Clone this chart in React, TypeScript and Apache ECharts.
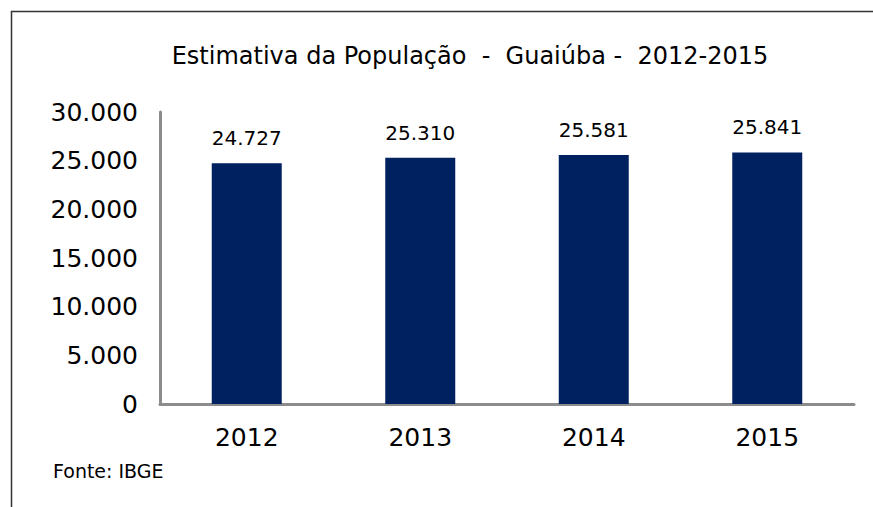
import React, { useEffect, useRef } from "react";
import * as echarts from "echarts";

const categories = ["2012", "2013", "2014", "2015"];
const populacao = [24727, 25310, 25581, 25841];
const yTicks = [0, 5000, 10000, 15000, 20000, 25000, 30000];
const titleText = "Estimativa da População  -  Guaiúba -  2012-2015";
const sourceText = "Fonte: IBGE";

const fmt = (v: number) => v.toLocaleString("de-DE");
const FONT = "DejaVu Sans, Verdana, sans-serif";

export default function App() {
  const ref = useRef<HTMLDivElement>(null);
  useEffect(() => {
    if (!ref.current) return;
    const chart = echarts.init(ref.current, undefined, { renderer: "svg" });
    chart.setOption({
      animation: false,
      backgroundColor: "#ffffff",
      title: {
        text: titleText,
        left: 465,
        textAlign: "center",
        top: 39,
        textStyle: {
          fontFamily: FONT,
          fontSize: 24,
          fontWeight: "normal",
          color: "#000",
        },
      },
      grid: { left: 160, right: 19, top: 112, bottom: 103, containLabel: false },
      xAxis: {
        type: "category",
        data: categories,
        axisLine: { lineStyle: { color: "#8c8c8c", width: 3 } },
        axisTick: { show: false },
        axisLabel: {
          fontFamily: FONT,
          fontSize: 25,
          color: "#000",
          margin: 21,
        },
      },
      yAxis: {
        type: "value",
        min: yTicks[0],
        max: yTicks[yTicks.length - 1],
        interval: 5000,
        axisLine: { show: true, lineStyle: { color: "#8c8c8c", width: 3 } },
        axisTick: { show: false },
        splitLine: { show: false },
        axisLabel: {
          fontFamily: FONT,
          fontSize: 25,
          color: "#000",
          margin: 22,
          formatter: (v: number) => fmt(v),
        },
      },
      series: [
        {
          type: "bar",
          data: populacao,
          barWidth: 70,
          itemStyle: { color: "#00215f" },
          label: {
            show: true,
            position: "top",
            distance: 15,
            fontFamily: FONT,
            fontSize: 20,
            color: "#000",
            formatter: (p: any) => fmt(p.value),
          },
        },
      ],
      graphic: [
        {
          type: "line",
          shape: { x1: 11.5, y1: 11, x2: 11.5, y2: 507 },
          style: { stroke: "#333", lineWidth: 1.5 },
        },
        {
          type: "line",
          shape: { x1: 11, y1: 11.5, x2: 873, y2: 11.5 },
          style: { stroke: "#333", lineWidth: 1.5 },
        },
        {
          type: "text",
          left: 53,
          top: 461,
          style: {
            text: sourceText,
            fontFamily: FONT,
            fontSize: 19,
            fill: "#000",
          },
        },
      ],
    });
    return () => chart.dispose();
  }, []);
  return (
    <div
      ref={ref}
      style={{ position: "fixed", left: 0, top: 0, width: 873, height: 507 }}
    />
  );
}
